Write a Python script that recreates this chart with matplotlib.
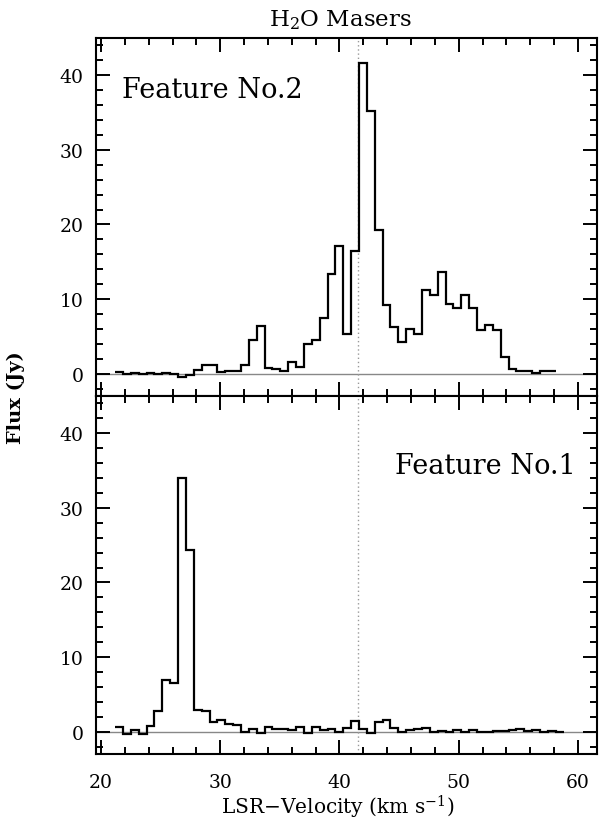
import numpy as np
import matplotlib
matplotlib.use("Agg")
import matplotlib.pyplot as plt
from matplotlib.ticker import MultipleLocator

plt.rcParams['font.family'] = ['DejaVu Serif']
plt.rcParams['mathtext.fontset'] = 'dejavuserif'

# Spectral channels (km/s): first channel edge and channel width
v_first_edge = 21.18
chan_width = 0.66

# Feature No.2 (top panel) flux density, Jy
flux_feature2 = [0.2, -0.1, 0.05, -0.05, 0.1, -0.1, 0.05, -0.05, -0.45, -0.2,
                 0.5, 1.15, 1.1, 0.25, 0.4, 0.35, 1.15, 4.5, 6.4, 0.7,
                 0.6, 0.4, 1.5, 0.9, 4.0, 4.5, 7.4, 13.4, 17.1, 5.3,
                 16.5, 41.7, 35.2, 19.3, 9.2, 6.3, 4.3, 6.0, 5.3, 11.2,
                 10.5, 13.6, 9.3, 8.75, 10.5, 8.75, 5.8, 6.5, 5.8, 2.2,
                 0.67, 0.4, 0.36, 0.13, 0.4, 0.3]

# Feature No.1 (bottom panel) flux density, Jy
flux_feature1 = [0.58, -0.36, 0.27, -0.27, 0.8, 2.7, 6.9, 6.5, 34.0, 24.4,
                 2.95, 2.8, 1.34, 1.6, 1.0, 0.9, -0.1, 0.35, -0.13, 0.63,
                 0.4, 0.3, 0.2, 0.63, -0.13, 0.67, 0.22, 0.4, 0.0, 0.45,
                 1.4, 0.4, -0.13, 1.34, 1.6, 0.54, -0.05, 0.2, 0.35, 0.45,
                 0.0, 0.1, -0.05, 0.15, -0.05, 0.15, 0.0, -0.05, 0.1, 0.12,
                 0.15, 0.3, 0.05, 0.2, -0.05, 0.08, 0.0]

v_marker = 41.57
xlim = (19.58, 61.6)
ylim = (-3, 45)
yticks = [0, 10, 20, 30, 40]
xticks = [20, 30, 40, 50, 60]

fig = plt.figure(figsize=(6.0, 8.29), dpi=100)
ax_top = fig.add_axes([0.16, 0.5211, 0.835, 0.4319])
ax_bot = fig.add_axes([0.16, 0.0893, 0.835, 0.4318])

panels = [(ax_top, flux_feature2, 'Feature No.2'),
          (ax_bot, flux_feature1, 'Feature No.1')]

for ax, flux, label in panels:
    edges = v_first_edge + chan_width * np.arange(len(flux) + 1)
    ax.axhline(0, color='#888888', lw=1.0, zorder=1)
    ax.axvline(v_marker, color='#999999', lw=1.0, ls=(0, (1, 2)), zorder=1)
    ax.stairs(flux, edges, baseline=None, color='black', lw=1.6, zorder=3)
    ax.set_xlim(*xlim)
    ax.set_ylim(*ylim)
    ax.set_xticks(xticks)
    ax.set_yticks(yticks)
    ax.xaxis.set_minor_locator(MultipleLocator(2))
    ax.yaxis.set_minor_locator(MultipleLocator(2))
    ax.tick_params(which='both', direction='in', top=True, right=True,
                   width=1.4, labelsize=13.5)
    ax.tick_params(which='major', length=10)
    ax.tick_params(which='minor', length=5)
    ax.tick_params(axis='y', pad=9)
    ax.tick_params(axis='x', pad=14)
    for sp in ax.spines.values():
        sp.set_linewidth(1.5)

ax_top.tick_params(labelbottom=False)
ax_top.text(0.052, 0.835, 'Feature No.2', transform=ax_top.transAxes,
            fontsize=19.5, ha='left', va='baseline')
ax_bot.text(0.958, 0.785, 'Feature No.1', transform=ax_bot.transAxes,
            fontsize=19.5, ha='right', va='baseline')

fig.text(0.568, 0.976, r'H$_2$O Masers', ha='center', va='center', fontsize=16.5)
fig.text(0.563, 0.026, r'LSR$-$Velocity (km s$^{-1}$)', ha='center',
         va='center', fontsize=14.5)
fig.text(0.027, 0.52, 'Flux (Jy)', rotation=90, ha='center', va='center',
         fontsize=14, fontweight='bold')

fig.savefig('out.png', dpi=100)
